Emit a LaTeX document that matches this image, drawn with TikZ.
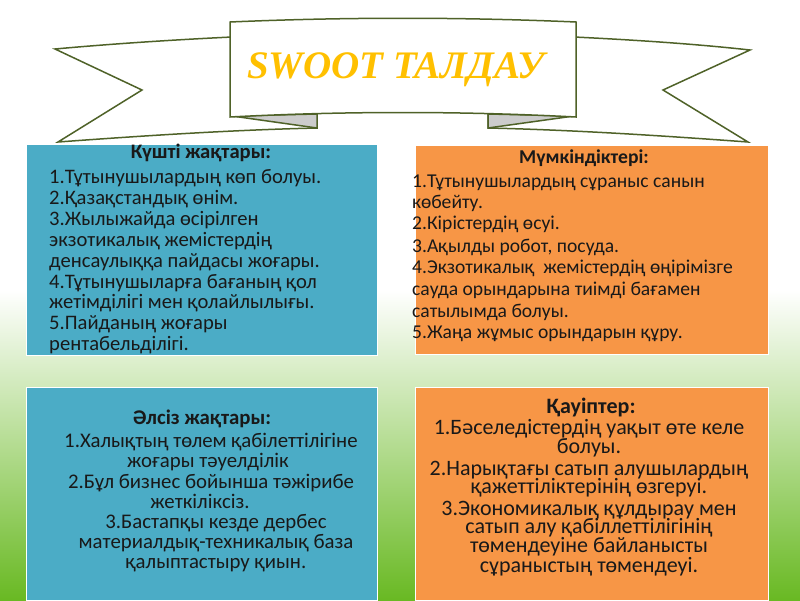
\documentclass[tikz,border=0pt]{standalone}
\usepackage{fontspec}
\setmainfont{Carlito}
\newfontfamily\titlefont{Liberation Serif}
\definecolor{boxblue}{RGB}{75,172,198}
\definecolor{boxorange}{RGB}{247,150,70}
\definecolor{ribboncol}{RGB}{79,98,40}
\definecolor{goldcol}{RGB}{255,192,0}
\definecolor{foldgray}{RGB}{204,204,204}
\definecolor{grassB}{RGB}{150,212,75}
\definecolor{grassC}{RGB}{105,185,35}
\newcommand\fntA{\fontsize{20.6}{24}\selectfont}
\newcommand\fntB{\fontsize{19.6}{24}\selectfont}
\newcommand\fntC{\fontsize{20.8}{24}\selectfont}
\newcommand\fntD{\fontsize{22}{24}\selectfont}
\begin{document}
\begin{tikzpicture}[x=1pt,y=-1pt,
  ribbonline/.style={draw=ribboncol,line width=1.5pt,line join=miter},
  panel/.style={anchor=north west,inner sep=0pt,outer sep=0pt,draw=white,line width=0.8pt},
  blue/.style={panel,fill=boxblue},
  orange/.style={panel,fill=boxorange},
  txt/.style={inner sep=0pt,text=black!90,text height=0.62em,text depth=0.12em},
  ttl/.style={inner sep=0pt,text=black!90,text height=0.62em,text depth=0.12em}]
\useasboundingbox (0,0) rectangle (800,600);
\fill[white] (0,0) rectangle (800,600);
\shade[top color=white,middle color=grassB,bottom color=grassC] (0,290) rectangle (800,600);

% ribbon tails
\draw[ribbonline,fill=white] (232,37) .. controls (170,40) and (110,44) .. (55,49) -- (142,90) -- (58,142) .. controls (140,136) and (230,130) .. (317,128) -- (317,114) -- cycle;
\draw[ribbonline,fill=white] (574,37) .. controls (636,40) and (696,44) .. (750,50) -- (663,90) -- (748,142) .. controls (666,136) and (576,130) .. (488,128) -- (488,114) -- cycle;
\draw[ribbonline,fill=foldgray] (232,116) -- (317,114) -- (317,128) -- cycle;
\draw[ribbonline,fill=foldgray] (574,116) -- (488,114) -- (488,128) -- cycle;
\draw[ribbonline,fill=white] (230,22) .. controls (345,17) and (460,17) .. (576,22) -- (576,117) .. controls (460,111) and (345,111) .. (230,117) -- cycle;
\node[anchor=base,inner sep=0pt,text=goldcol,font=\titlefont\bfseries\itshape\fontsize{39}{39}\selectfont] (title) at (396,78) {SWOOT ТАЛДАУ};

% boxes
\node[blue,minimum width=351pt,minimum height=211pt] (S) at (26,144) {};
\node[orange,minimum width=353pt,minimum height=209pt] (O) at (415,145) {};
\node[blue,minimum width=351pt,minimum height=213pt] (W) at (26,387) {};
\node[orange,minimum width=353pt,minimum height=213pt] (T) at (415,387) {};

% strengths
\node[ttl,anchor=base,font=\fntA\bfseries] (S0) at (201,158) {Күшті жақтары:};
\foreach \y/\t [count=\i] in {183/{1.Тұтынушылардың көп болуы.},204/{2.Қазақстандық өнім.},225/{3.Жылыжайда өсірілген},246/{экзотикалық жемістердің},267/{денсаулыққа пайдасы жоғары.},288/{4.Тұтынушыларға бағаның қол},308/{жетімділігі мен қолайлылығы.},329/{5.Пайданың жоғары},350/{рентабельділігі.}}
  \node[txt,font=\fntA,anchor=base west] (S\i) at (49,\y) {\t};

% opportunities
\node[ttl,anchor=base,font=\fntB\bfseries] (O0) at (584,163) {Мүмкіндіктері:};
\foreach \y/\t [count=\i] in {187/{1.Тұтынушылардың сұраныс санын},208/{көбейту.},229/{2.Кірістердің өсуі.},252/{3.Ақылды робот, посуда.},273/{4.Экзотикалық\ \ жемістердің өңірімізге},295/{сауда орындарына тиімді бағамен},317/{сатылымда болуы.},338/{5.Жаңа жұмыс орындарын құру.}}
  \node[txt,font=\fntB,anchor=base west] (O\i) at (412,\y) {\t};

% weaknesses
\node[ttl,anchor=base,font=\fntC\bfseries] (W0) at (202,424) {Әлсіз жақтары:};
\foreach \x/\y/\t [count=\i] in {211/447/{1.Халықтың төлем қабілеттілігіне},208/467/{жоғары тәуелділік},211/488/{2.Бұл бизнес бойынша тәжірибе},200/508/{жеткіліксіз.},216/528/{3.Бастапқы кезде дербес},216/548/{материалдық-техникалық база},216/568/{қалыптастыру қиын.}}
  \node[txt,font=\fntC,anchor=base] (W\i) at (\x,\y) {\t};

% threats
\node[ttl,anchor=base,font=\fntD\bfseries] (T0) at (591,413) {Қауіптер:};
\foreach \y/\t [count=\i] in {434/{1.Бәселедістердің уақыт өте келе},453/{болуы.},475/{2.Нарықтағы сатып алушылардың},493/{қажеттіліктерінің өзгеруі.},515/{3.Экономикалық құлдырау мен},533/{сатып алу қабіллеттілігінің},552/{төмендеуіне байланысты},572/{сұраныстың төмендеуі.}}
  \node[txt,font=\fntD,anchor=base] (T\i) at (589,\y) {\t};
\end{tikzpicture}
\end{document}
